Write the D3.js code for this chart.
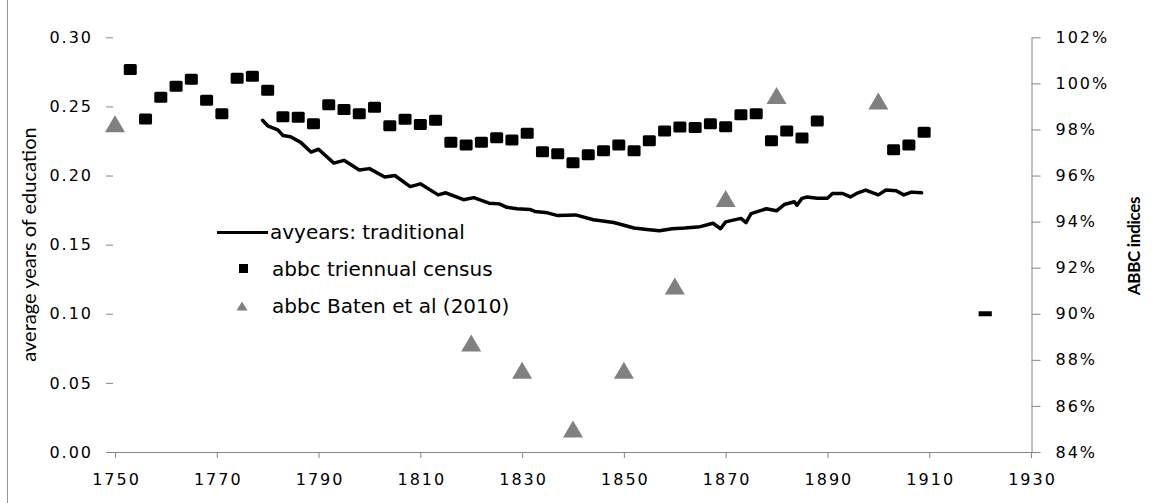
<!DOCTYPE html>
<html><head><meta charset="utf-8">
<script src="https://cdn.jsdelivr.net/npm/d3@7/dist/d3.min.js"></script>
<style>
html,body{margin:0;padding:0;background:#fff;}
svg{display:block;}
</style></head><body>
<svg id="chart" width="1160" height="503"></svg>
<script>
// ---- data ----
const xTicks = [1750, 1770, 1790, 1810, 1830, 1850, 1870, 1890, 1910, 1930];
const leftTicks = [0.00, 0.05, 0.10, 0.15, 0.20, 0.25, 0.30];
const rightTicks = [84, 86, 88, 90, 92, 94, 96, 98, 100, 102];

const lineYears = [1779, 1780, 1782, 1783, 1784.5, 1786.5, 1788.5, 1790, 1793, 1795, 1798, 1800, 1803, 1805,
  1808, 1810, 1813.5, 1815, 1818.5, 1820.5, 1823.5, 1825.5, 1827, 1829, 1831.5, 1832.5, 1835, 1837, 1840.5,
  1844, 1848, 1852, 1854.5, 1857, 1859.5, 1862, 1865, 1867.5, 1869, 1870, 1873, 1874, 1875, 1878, 1880,
  1881.5, 1883.5, 1884, 1885, 1886, 1888, 1890, 1891, 1893, 1894.5, 1896, 1897.5, 1900, 1901.5, 1903.5,
  1905, 1906.5, 1908.5];
const lineValues = [0.240, 0.236, 0.233, 0.229, 0.228, 0.224, 0.217, 0.219, 0.209, 0.211, 0.204, 0.205, 0.199, 0.200,
  0.192, 0.194, 0.186, 0.1875, 0.1825, 0.184, 0.180, 0.1795, 0.177, 0.176, 0.1755, 0.174, 0.173, 0.171, 0.1715,
  0.168, 0.166, 0.162, 0.161, 0.160, 0.1615, 0.162, 0.163, 0.1655, 0.1615, 0.1665, 0.169, 0.166, 0.1725, 0.176, 0.1745,
  0.179, 0.181, 0.1785, 0.1835, 0.1845, 0.1835, 0.1835, 0.187, 0.187, 0.1845, 0.1875, 0.1895, 0.186, 0.1895, 0.189,
  0.186, 0.188, 0.1875];

const censusYears = [1753, 1756, 1759, 1762, 1765, 1768, 1771, 1774, 1777, 1780, 1783, 1786, 1789, 1792, 1795,
  1798, 1801, 1804, 1807, 1810, 1813, 1816, 1819, 1822, 1825, 1828, 1831, 1834, 1837, 1840, 1843, 1846, 1849,
  1852, 1855, 1858, 1861, 1864, 1867, 1870, 1873, 1876, 1879, 1882, 1885, 1888, 1903, 1906, 1909];
const censusValues = [100.6, 98.45, 99.4, 99.87, 100.18, 99.27, 98.68, 100.22, 100.31, 99.7, 98.55, 98.53, 98.25, 99.07, 98.87,
  98.68, 98.96, 98.16, 98.44, 98.21, 98.4, 97.44, 97.33, 97.44, 97.64, 97.54, 97.84, 97.03, 96.95, 96.56, 96.9, 97.08, 97.33,
  97.08, 97.51, 97.93, 98.11, 98.08, 98.25, 98.12, 98.64, 98.68, 97.51, 97.93, 97.63, 98.37, 97.12, 97.33, 97.88];

const batenYears = [1750, 1820, 1830, 1840, 1850, 1860, 1870, 1880, 1900];
const batenValues = [98.25, 88.73, 87.55, 85.0, 87.55, 91.2, 95.0, 99.47, 99.24];

const extraYears = [1919.7, 1922.3];
const extraValues = [0.10, 0.10];

const legendLabels = ["avyears: traditional", "abbc triennual census", "abbc Baten et al (2010)"];
const leftTitle = "average years of education";
const rightTitle = "ABBC indices";

// ---- layout ----
const svg = d3.select("#chart");
const x = d3.scaleLinear().domain([1750, 1930]).range([115, 1031]);
const yL = d3.scaleLinear().domain([0, 0.30]).range([452, 37.3]);
const yR = d3.scaleLinear().domain([84, 102]).range([452, 37.3]);
const axisGrey = "#868686";
const tickFont = "'DejaVu Sans', Verdana, sans-serif";

// chart-area left border
svg.append("line").attr("x1", 7.5).attr("x2", 7.5).attr("y1", 0).attr("y2", 503)
  .attr("stroke", "#9a9a9a").attr("stroke-width", 1);

// x axis
const gx = svg.append("g").attr("transform", "translate(0,452)")
  .call(d3.axisBottom(x).tickValues(xTicks).tickFormat(d3.format("d")).tickSize(6).tickSizeOuter(0));
gx.select(".domain").attr("stroke", axisGrey).attr("d", "M107,0.5H1031");
gx.selectAll(".tick line").attr("stroke", axisGrey);
gx.selectAll(".tick text").attr("fill", "#000").attr("dy", 0).attr("y", 33)
  .attr("dx", 1)
  .style("font-family", tickFont).style("font-size", "16px").style("letter-spacing", "2px");

// left axis (ticks only)
const gl = svg.append("g").attr("transform", "translate(113,0)")
  .call(d3.axisLeft(yL).tickValues(leftTicks).tickFormat(d3.format(".2f")).tickSize(7).tickPadding(0));
gl.select(".domain").remove();
gl.selectAll(".tick line").attr("stroke", axisGrey);
gl.selectAll(".tick text").attr("fill", "#000").attr("x", -20)
  .style("font-family", tickFont).style("font-size", "16px").style("letter-spacing", "2px");

// right axis
const gr = svg.append("g").attr("transform", "translate(1031.5,0)")
  .call(d3.axisRight(yR).tickValues(rightTicks).tickFormat(d => d + "%").tickSize(9).tickSizeOuter(0).tickPadding(0));
gr.select(".domain").attr("stroke", axisGrey);
gr.selectAll(".tick line").attr("stroke", axisGrey);
gr.selectAll(".tick text").attr("fill", "#000").attr("x", 24)
  .style("font-family", tickFont).style("font-size", "16px").style("letter-spacing", "2px");

// axis titles
svg.append("text").attr("transform", "translate(36,244.5) rotate(-90)")
  .attr("text-anchor", "middle").attr("fill", "#000")
  .style("font-family", "Lato, sans-serif").style("font-size", "20px").text(leftTitle);
svg.append("text").attr("transform", "translate(1140,246) rotate(-90)")
  .attr("text-anchor", "middle").attr("fill", "#000")
  .style("font-family", "Lato, sans-serif").style("font-size", "17px").style("font-weight", "bold")
  .style("letter-spacing", "-0.3px")
  .text(rightTitle);

// line series
const lineData = lineYears.map((yr, i) => [yr, lineValues[i]]);
svg.append("path").datum(lineData)
  .attr("fill", "none").attr("stroke", "#000").attr("stroke-width", 3.5).attr("stroke-linejoin", "round")
  .attr("stroke-linecap", "round")
  .attr("d", d3.line().x(d => x(d[0])).y(d => yL(d[1])));

const extraData = extraYears.map((yr, i) => [yr, extraValues[i]]);
svg.append("path").datum(extraData)
  .attr("fill", "none").attr("stroke", "#000").attr("stroke-width", 5).attr("stroke-linecap", "butt")
  .attr("d", d3.line().x(d => x(d[0])).y(d => yL(d[1])));

// census squares
const sqW = 13, sqH = 11;
svg.append("g").selectAll("rect").data(censusYears.map((yr, i) => [yr, censusValues[i]]))
  .join("rect")
  .attr("x", d => x(d[0]) - sqW / 2).attr("y", d => yR(d[1]) - sqH / 2)
  .attr("width", sqW).attr("height", sqH).attr("rx", 1.5).attr("fill", "#000");

// Baten triangles
const triW = 20, triH = 17;
const triPath = (cx, cy, w, h) => `M${cx},${cy - h / 2}L${cx + w / 2},${cy + h / 2}L${cx - w / 2},${cy + h / 2}Z`;
svg.append("g").selectAll("path").data(batenYears.map((yr, i) => [yr, batenValues[i]]))
  .join("path")
  .attr("d", d => triPath(x(d[0]), yR(d[1]), triW, triH))
  .attr("fill", "#808080");

// legend
const lg = svg.append("g");
lg.append("line").attr("x1", 217).attr("x2", 268).attr("y1", 232.5).attr("y2", 232.5)
  .attr("stroke", "#000").attr("stroke-width", 3);
lg.append("rect").attr("x", 239).attr("y", 264).attr("width", 9).attr("height", 9).attr("fill", "#000");
lg.append("path").attr("d", triPath(242, 306, 11, 9)).attr("fill", "#808080");
const lgY = [239, 276, 313];
lg.selectAll("text").data(legendLabels).join("text")
  .attr("x", (d, i) => i === 0 ? 270 : 272).attr("y", (d, i) => lgY[i]).attr("fill", "#000")
  .style("font-family", tickFont).style("font-size", "20px").text(d => d);
</script>
</body></html>
